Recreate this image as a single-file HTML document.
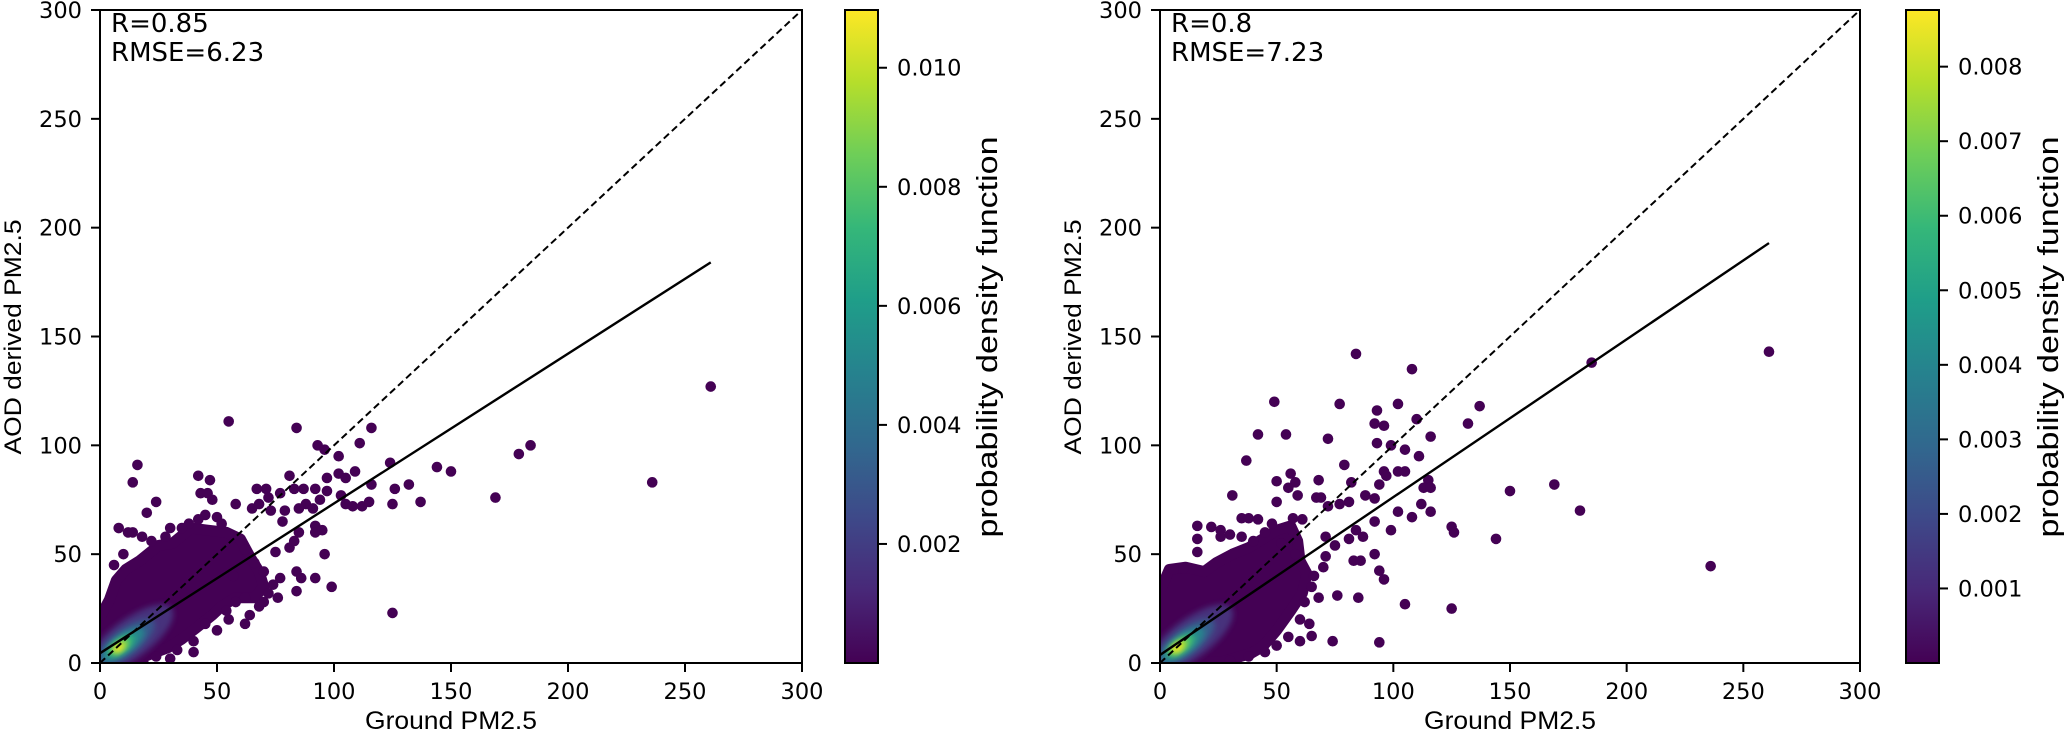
<!DOCTYPE html>
<html><head><meta charset="utf-8"><style>
html,body{margin:0;padding:0;background:#fff;}
svg{display:block;}
.tick{font-family:"DejaVu Sans","Liberation Sans",sans-serif;font-size:22.5px;fill:#000;}
.lab{font-family:"Liberation Sans Narrow","Liberation Sans",sans-serif;fill:#000;}
</style></head><body>
<svg id="fig" width="2067" height="736" viewBox="0 0 2067 736" xmlns="http://www.w3.org/2000/svg">
<defs>
<linearGradient id="viridis" x1="0" y1="1" x2="0" y2="0">
<stop offset="0" stop-color="#440154"/><stop offset="0.111" stop-color="#482878"/><stop offset="0.222" stop-color="#3e4989"/><stop offset="0.333" stop-color="#31688e"/><stop offset="0.444" stop-color="#26828e"/><stop offset="0.556" stop-color="#1f9e89"/><stop offset="0.667" stop-color="#35b779"/><stop offset="0.778" stop-color="#6ece58"/><stop offset="0.889" stop-color="#b5de2b"/><stop offset="1" stop-color="#fde725"/>
</linearGradient>
<filter id="blur" x="-50%" y="-50%" width="200%" height="200%"><feGaussianBlur stdDeviation="3"/></filter>
</defs>
</svg>
<script>
// ---------- data ----------
const axisTicks = [0, 50, 100, 150, 200, 250, 300];
const leftStats = ["R=0.85", "RMSE=6.23"];
const rightStats = ["R=0.8", "RMSE=7.23"];
const leftFit = [4.5, 0.688, 261];   // intercept, slope, xmax
const rightFit = [3.7, 0.725, 261];
const leftCbarTicks = [0.002, 0.004, 0.006, 0.008, 0.010];
const leftCbarLabels = ["0.002", "0.004", "0.006", "0.008", "0.010"];
const leftCbarRange = [0, 0.01097];
const rightCbarTicks = [0.001, 0.002, 0.003, 0.004, 0.005, 0.006, 0.007, 0.008];
const rightCbarLabels = ["0.001", "0.002", "0.003", "0.004", "0.005", "0.006", "0.007", "0.008"];
const rightCbarRange = [0, 0.00876];
const leftCloud = [[0,0],[0,21],[4,29],[7,38],[11,43],[17,47],[25,54],[31,55],[39,62],[46,61],[54,60],[60,57],[64,49],[68,42],[70,35],[66,30],[58,30],[52,26],[48,22],[41,16],[35,11],[29,7],[19,3],[18,0]];
const rightCloud = [[0,0],[0,33],[4,43],[11,44],[19,42],[24,46],[31,50],[38,53],[44,57],[50,61],[56,63],[59,56],[60,47],[63,41],[61,32],[56,24],[50,15],[44,7.5],[39,4.4],[27,0.6]];
// density cores: cx, cy, rx, ry (data units), density
const leftCores = [[13,11,22,9,0.0015],[11,9.5,15,6,0.003],[10,8.5,11,4.5,0.005],[9,8,7,3.2,0.007],[8.5,7.5,4.5,2.4,0.009],[8,7,2.5,1.6,0.0108]];
const rightCores = [[13,11,22,9,0.0012],[11,9.5,15,6,0.0025],[10,8.5,11,4.5,0.004],[9,8,7,3.2,0.006],[8,7.5,4.5,2.4,0.0075],[7.5,7,2.5,1.6,0.0086]];
const leftPoints = [[55,111],[84,108],[116,108],[111,101],[93,100],[96,98],[102,95],[124,92],[144,90],[150,88],[169,76],[132,82],[126,80],[137,74],[125,73],[109,88],[102,87],[116,82],[97,85],[81,86],[105,85],[92,80],[97,79],[87,80],[83,80],[94,75],[103,77],[105,73],[108,72],[112,72],[115,74],[88,73],[85,71],[91,71],[92,63],[92,60],[95,61],[85,60],[96,50],[84,42],[86,39],[92,39],[99,35],[84,33],[125,23],[77,39],[81,53],[83,56],[75,51],[67,80],[71,80],[77,78],[58,73],[72,76],[65,71],[68,73],[73,70],[79,70],[78,65],[42,86],[47,84],[43,78],[46,78],[48,75],[45,68],[50,67],[16,91],[14,83],[24,74],[20,69],[8,62],[12,60],[14,60],[18,58],[38,64],[179,96],[184,100],[236,83],[261,127],[62,52],[66,46],[70,42],[72,32],[68,26],[62,30],[57,40],[52,64],[35,62],[28,58],[22,56],[55,20],[50,15],[45,18],[40,10],[33,6],[24,3],[64,22],[58,28],[74,36],[76,30],[70,28],[62,18],[54,24],[30,62],[42,66],[10,50],[6,45],[40,5],[30,2]];
const rightPoints = [[84,142],[108,135],[49,120],[77,119],[102,119],[93,116],[137,118],[92,110],[96,109],[110,112],[42,105],[54,105],[72,103],[93,101],[99,100],[105,98],[116,104],[132,110],[37,93],[111,95],[79,91],[56,87],[96,88],[102,88],[105,88],[50,83.5],[58,83],[68,84],[82,83],[94,82],[97,86],[115,84],[113,80.5],[116,80.5],[169,82],[150,79],[180,70],[31,77],[55,80.5],[59,77],[50,74],[67,76],[69,76],[88,77],[92,75.6],[81,74],[77,73],[72,72],[102,69.5],[112,73],[116,69.5],[108,67],[92,65],[99,61],[125,62.6],[126,60],[144,57],[84,61],[87,58],[81,57],[71,58],[61,66],[57,66.5],[75,54],[92,50],[83,47],[86,47],[94,42.4],[96,38.4],[71,49],[70,44],[76,31],[85,30],[105,27],[125,25],[94,9.5],[74,10],[65,12.4],[16,63],[22,62.5],[26,61],[16,57],[26,58],[35,66.5],[38,66.5],[42,66],[30,59],[16,51],[6,43],[10,43.5],[261,143],[185,138],[236,44.5],[65,35],[62,28],[60,20],[55,12],[50,8],[45,5],[38,3],[30,1],[45,60],[40,56],[52,55],[58,50],[66,40],[68,30],[64,18],[60,10],[48,64],[35,58]];

// ---------- drawing ----------
const NS = "http://www.w3.org/2000/svg";
const svg = document.getElementById("fig");
function mk(tag, attrs, parent) {
  const e = document.createElementNS(NS, tag);
  for (const k in attrs) e.setAttribute(k, attrs[k]);
  (parent || svg).appendChild(e);
  return e;
}
function viridis(t) {
  const c = ["#440154","#482878","#3e4989","#31688e","#26828e","#1f9e89","#35b779","#6ece58","#b5de2b","#fde725"];
  t = Math.max(0, Math.min(1, t));
  const f = t * 9, i = Math.min(8, Math.floor(f)), u = f - i;
  const a = c[i], b = c[i + 1];
  const h = (s, k) => parseInt(s.substr(1 + 2 * k, 2), 16);
  const r = [0,1,2].map(k => Math.round(h(a,k) + (h(b,k) - h(a,k)) * u));
  return "rgb(" + r.join(",") + ")";
}

function panel(p) {
  const g = mk("g", {});
  
  
  const X0 = p.x0, X1 = p.x1, Y0 = 663, Y1 = 10;
  const sx = v => X0 + (v / 300) * (X1 - X0);
  const sy = v => Y0 - (v / 300) * (Y0 - Y1);
  const clipId = p.name + "-clip";
  const cp = mk("clipPath", { id: clipId }, g);
  mk("rect", { x: X0, y: Y1, width: X1 - X0, height: Y0 - Y1 }, cp);
  const plot = mk("g", { "clip-path": "url(#" + clipId + ")" }, g);
  
  

  const cloud = mk("polygon", {
    points: p.cloud.map(d => sx(d[0]) + "," + sy(d[1])).join(" "),
    fill: "#440154", stroke: "#440154", "stroke-width": 11, "stroke-linejoin": "round"
  }, plot);
  
  

  p.points.forEach(d => {
    const c = mk("circle", { cx: sx(d[0]), cy: sy(d[1]), r: 5.3, fill: "#440154" }, plot);
    
    
  });

  const ang = -Math.atan(0.8 * (Y0 - Y1) / (X1 - X0)) * 180 / Math.PI;
  p.cores.forEach(d => {
    const e = mk("ellipse", {
      cx: sx(d[0]), cy: sy(d[1]),
      rx: d[2] * (X1 - X0) / 300, ry: d[3] * (Y0 - Y1) / 300,
      fill: viridis((d[4] - p.range[0]) / (p.range[1] - p.range[0])),
      transform: "rotate(" + ang + " " + sx(d[0]) + " " + sy(d[1]) + ")",
      filter: "url(#blur)"
    }, plot);
    
    
  });

  const l1 = mk("line", { x1: sx(0), y1: sy(0), x2: sx(300), y2: sy(300), stroke: "#000", "stroke-width": 2, "stroke-dasharray": "7,4" }, plot);
  
  
  const f = p.fit;
  const l2 = mk("line", { x1: sx(0), y1: sy(f[0]), x2: sx(f[2]), y2: sy(f[0] + f[1] * f[2]), stroke: "#000", "stroke-width": 2.4 }, plot);
  
  

  const fr = mk("rect", { x: X0, y: Y1, width: X1 - X0, height: Y0 - Y1, fill: "none", stroke: "#000", "stroke-width": 2 }, g);
  
  

  axisTicks.forEach(v => {
    const tx = mk("line", { x1: sx(v), y1: Y0, x2: sx(v), y2: Y0 + 9, stroke: "#000", "stroke-width": 2 }, g);
    
    
    const lx = mk("text", { x: sx(v), y: 699, "text-anchor": "middle", class: "tick" }, g);
    lx.textContent = String(v);
    
    
    const ty = mk("line", { x1: X0 - 9, y1: sy(v), x2: X0, y2: sy(v), stroke: "#000", "stroke-width": 2 }, g);
    
    
    const ly = mk("text", { x: X0 - 18, y: sy(v) + 8, "text-anchor": "end", class: "tick" }, g);
    ly.textContent = String(v);
    
    
  });

  const xt = mk("text", { x: (X0 + X1) / 2, y: 729, "text-anchor": "middle", class: "lab", "font-size": 25, textLength: 172, lengthAdjust: "spacingAndGlyphs" }, g);
  xt.textContent = "Ground PM2.5";
  
  
  const yt = mk("text", { x: 0, y: 0, "text-anchor": "middle", class: "lab", "font-size": 24, textLength: 235, lengthAdjust: "spacingAndGlyphs", transform: "translate(" + (X0 - 79) + "," + 337 + ") rotate(-90)" }, g);
  yt.textContent = "AOD derived PM2.5";
  
  

  p.stats.forEach((s, i) => {
    const t = mk("text", { x: X0 + 11, y: 32 + i * 29, class: "tick" }, g);
    t.setAttribute("style", "font-size:26px");
    t.textContent = s;
    
    
  });

  const cb = mk("g", {}, g);
  
  
  const cy = v => Y0 - (v - p.range[0]) / (p.range[1] - p.range[0]) * (Y0 - Y1);
  const bar = mk("rect", { x: p.cb, y: Y1, width: 33, height: Y0 - Y1, fill: "url(#viridis)", stroke: "#000", "stroke-width": 2 }, cb);
  
  
  p.cticks.forEach((v, i) => {
    const t = mk("line", { x1: p.cb + 33, y1: cy(v), x2: p.cb + 42, y2: cy(v), stroke: "#000", "stroke-width": 2 }, cb);
    
    
    const l = mk("text", { x: p.cb + 52, y: cy(v) + 8, class: "tick" }, cb);
    l.textContent = p.clabels[i];
    
    
  });
  const ct = mk("text", { x: 0, y: 0, "text-anchor": "middle", class: "lab", "font-size": 29, textLength: 401, lengthAdjust: "spacingAndGlyphs", transform: "translate(" + (p.cb + 152) + ",337) rotate(-90)" }, cb);
  ct.textContent = "probability density function";
  
  
}

panel({ name: "left-panel", x0: 100, x1: 802, cb: 845, cloud: leftCloud, points: leftPoints, cores: leftCores, range: leftCbarRange, fit: leftFit, stats: leftStats, cticks: leftCbarTicks, clabels: leftCbarLabels });
panel({ name: "right-panel", x0: 1160, x1: 1860, cb: 1906, cloud: rightCloud, points: rightPoints, cores: rightCores, range: rightCbarRange, fit: rightFit, stats: rightStats, cticks: rightCbarTicks, clabels: rightCbarLabels });
</script>
</body></html>
